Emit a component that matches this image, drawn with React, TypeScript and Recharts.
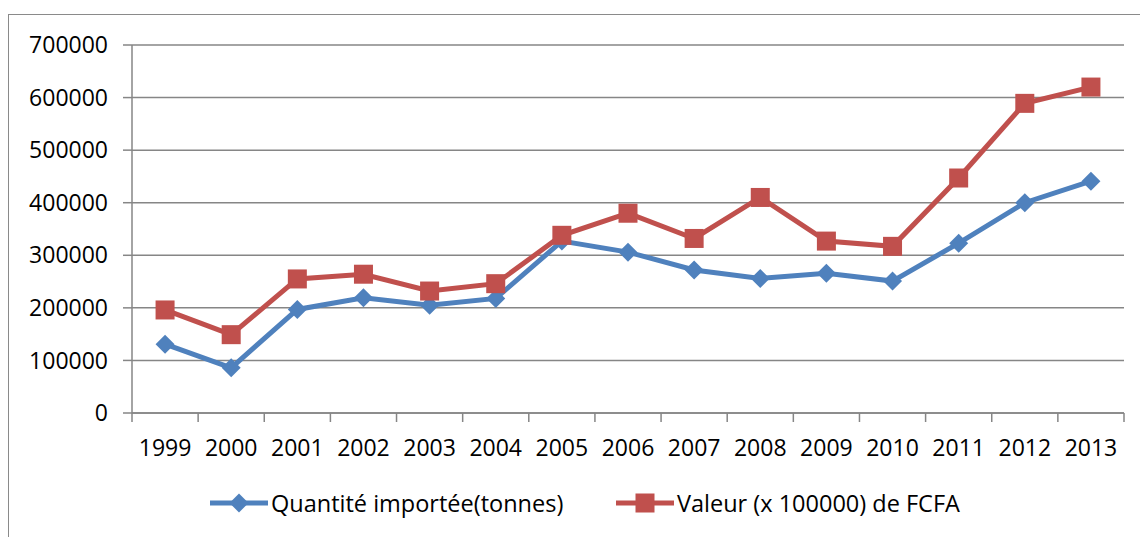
import React from 'react';
import { LineChart, Line, XAxis, YAxis, CartesianGrid } from 'recharts';

const years = ['1999', '2000', '2001', '2002', '2003', '2004', '2005', '2006', '2007', '2008', '2009', '2010', '2011', '2012', '2013'];
const quantite = [131000, 86000, 197000, 219000, 205000, 218000, 327000, 306000, 272000, 256000, 266000, 251000, 323000, 400000, 441000];
const valeur = [196000, 149000, 255000, 264000, 232000, 246000, 338000, 380000, 332000, 410000, 327000, 317000, 447000, 589000, 620000];
const yTicks = [0, 100000, 200000, 300000, 400000, 500000, 600000, 700000];

const BLUE = '#4F81BD';
const RED = '#C0504D';
const GRID = '#868686';
const FONT = '"Open Sans", sans-serif';

const PLOT_LEFT = 132;
const PLOT_RIGHT = 1124;
const BAND = (PLOT_RIGHT - PLOT_LEFT) / years.length;

const data = years.map((y, i) => ({ year: y, quantite: quantite[i], valeur: valeur[i] }));

// excel-style markers
const Diamond = (props: any) => {
    const { cx, cy, fill } = props;
    if (cx == null || cy == null) return null;
    const r = 9.5;
    return <path d={`M${cx},${cy - r}L${cx + r},${cy}L${cx},${cy + r}L${cx - r},${cy}Z`} fill={fill} />;
};

const Square = (props: any) => {
    const { cx, cy, fill } = props;
    if (cx == null || cy == null) return null;
    const s = 19;
    return <rect x={cx - s / 2} y={cy - s / 2} width={s} height={s} fill={fill} />;
};

// ticks sit between categories, labels in the middle
const YearTick = (props: any) => {
    const { x, y, payload, index } = props;
    const last = index === years.length - 1;
    return (
        <g>
            <line x1={x - BAND / 2} x2={x - BAND / 2} y1={y} y2={y + 9} stroke={GRID} strokeWidth={1.5} />
            {last && <line x1={x + BAND / 2} x2={x + BAND / 2} y1={y} y2={y + 9} stroke={GRID} strokeWidth={1.5} />}
            <text x={x} y={y + 43} textAnchor="middle" fill="#000" fontSize={23} fontFamily={FONT}>
                {payload.value}
            </text>
        </g>
    );
};

const LegendItem = ({ left, color, square, label }: any) => (
    <div style={{ position: 'absolute', left, top: 489, display: 'flex', alignItems: 'center' }}>
        <svg width={58} height={24}>
            <line x1={0} x2={58} y1={12} y2={12} stroke={color} strokeWidth={5} />
            {square ? <Square cx={29} cy={12} fill={color} /> : <Diamond cx={29} cy={12} fill={color} />}
        </svg>
        <span style={{ fontFamily: FONT, fontSize: 23.5, color: '#000', marginLeft: 3, lineHeight: '28px', whiteSpace: 'nowrap' }}>
            {label}
        </span>
    </div>
);

export default function App() {
    return (
        <div style={{ position: 'fixed', left: 0, top: 0, width: 1140, height: 537, overflow: 'hidden', background: '#fff' }}>
            <div
                style={{
                    position: 'absolute',
                    left: 8,
                    top: 14,
                    width: 1200,
                    height: 600,
                    borderTop: '1.5px solid #8a8a8a',
                    borderLeft: '1.5px solid #8a8a8a'
                }}
            />
            <div style={{ position: 'absolute', left: 0, top: 0 }}>
                <LineChart width={1140} height={537} data={data} margin={{ top: 45, right: 1140 - PLOT_RIGHT, left: 0, bottom: 64 }}>
                    <CartesianGrid vertical={false} stroke={GRID} strokeWidth={1.5} />
                    <XAxis
                        dataKey="year"
                        scale="band"
                        height={60}
                        axisLine={{ stroke: GRID, strokeWidth: 1.5 }}
                        tickLine={false}
                        tickSize={0}
                        tickMargin={0}
                        interval={0}
                        tick={<YearTick />}
                    />
                    <YAxis
                        width={PLOT_LEFT}
                        domain={[0, 700000]}
                        ticks={yTicks}
                        interval={0}
                        axisLine={{ stroke: GRID, strokeWidth: 1.5 }}
                        tickLine={{ stroke: GRID, strokeWidth: 1.5 }}
                        tickSize={9}
                        tickMargin={15}
                        tick={{ fill: '#000', fontSize: 23, fontFamily: FONT }}
                    />
                    <Line
                        type="linear"
                        dataKey="quantite"
                        stroke={BLUE}
                        strokeWidth={5}
                        dot={<Diamond fill={BLUE} />}
                        activeDot={false}
                        isAnimationActive={false}
                    />
                    <Line
                        type="linear"
                        dataKey="valeur"
                        stroke={RED}
                        strokeWidth={5}
                        dot={<Square fill={RED} />}
                        activeDot={false}
                        isAnimationActive={false}
                    />
                </LineChart>
            </div>
            <LegendItem left={210} color={BLUE} label="Quantité importée(tonnes)" />
            <LegendItem left={616} color={RED} square label="Valeur (x 100000) de FCFA" />
        </div>
    );
}
